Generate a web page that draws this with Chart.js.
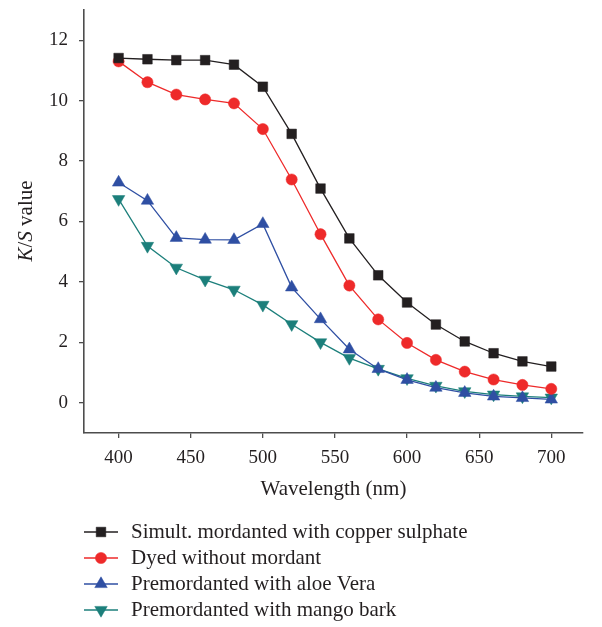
<!DOCTYPE html>
<html>
<head>
<meta charset="utf-8">
<script src="https://cdn.jsdelivr.net/npm/chart.js@4/dist/chart.umd.min.js"></script>
<style>
  html, body { margin: 0; padding: 0; background: #fff; }
  #wrap { width: 602px; height: 627px; position: relative; }
</style>
</head>
<body>
<div id="wrap"><canvas id="ksChart"></canvas></div>
<script>
// ===== data =====
const wavelengths = [400, 420, 440, 460, 480, 500, 520, 540, 560, 580, 600, 620, 640, 660, 680, 700];
const copperSulphate = [11.41, 11.37, 11.34, 11.34, 11.19, 10.46, 8.9, 7.09, 5.44, 4.22, 3.32, 2.59, 2.03, 1.64, 1.37, 1.2];
const withoutMordant = [11.3, 10.61, 10.2, 10.04, 9.91, 9.06, 7.39, 5.58, 3.88, 2.76, 1.98, 1.42, 1.03, 0.77, 0.59, 0.46];
const aloeVera = [7.29, 6.69, 5.46, 5.4, 5.39, 5.92, 3.82, 2.77, 1.77, 1.12, 0.76, 0.5, 0.33, 0.21, 0.16, 0.11];
const mangoBark = [6.74, 5.19, 4.47, 4.07, 3.74, 3.24, 2.6, 2.0, 1.48, 1.12, 0.81, 0.56, 0.38, 0.27, 0.21, 0.17];

const seriesNames = [
  "Simult. mordanted with copper sulphate",
  "Dyed without mordant",
  "Premordanted with aloe Vera",
  "Premordanted with mango bark"
];
const xTicks = [400, 450, 500, 550, 600, 650, 700];
const yTicks = [0, 2, 4, 6, 8, 10, 12];

const FONT = "'Liberation Serif', 'DejaVu Serif', serif";
const INK = "#231f20";
const AXIS = "#4d4d4d";
const TXT = 21; // titles / legend
const TICK = 19;

const toXY = vals => vals.map((v, i) => ({ x: wavelengths[i], y: v }));

function ds(label, vals, color, style, radius, rotation) {
  return {
    label,
    data: toXY(vals),
    borderColor: color,
    backgroundColor: color,
    pointBackgroundColor: color,
    pointBorderColor: color,
    pointBorderWidth: 0.5,
    pointStyle: style,
    pointRadius: radius,
    pointRotation: rotation || 0,
    pointHoverRadius: radius,
    borderWidth: 1.3,
    tension: 0,
    fill: false
  };
}

const datasets = [
  ds(seriesNames[0], copperSulphate, "#231f20", "rect", 6.8),
  ds(seriesNames[1], withoutMordant, "#ee2a2a", "circle", 5.6),
  ds(seriesNames[2], aloeVera, "#2f4fa3", "triangle", 7.2),
  ds(seriesNames[3], mangoBark, "#1c7f7b", "triangle", 7.2, 180)
];

// 凡例と y 軸タイトル（K, S を斜体）は自前で描く
const extras = {
  id: "extras",
  afterDraw(chart) {
    const c = chart.ctx;
    c.save();
    // y title
    const parts = [["K", "italic"], ["/", "normal"], ["S", "italic"], [" value", "normal"]];
    c.fillStyle = INK;
    c.textBaseline = "middle";
    let total = 0;
    parts.forEach(p => { c.font = `${p[1]} ${TXT}px ${FONT}`; total += c.measureText(p[0]).width; });
    c.translate(26, 221);
    c.rotate(-Math.PI / 2);
    let px = -total / 2;
    parts.forEach(p => {
      c.font = `${p[1]} ${TXT}px ${FONT}`;
      c.textAlign = "left";
      c.fillText(p[0], px, 0);
      px += c.measureText(p[0]).width;
    });
    c.restore();

    // legend
    c.save();
    chart.data.datasets.forEach((d, i) => {
      const y = 532 + i * 26;
      c.strokeStyle = d.borderColor;
      c.lineWidth = 1.3;
      c.beginPath();
      c.moveTo(84, y);
      c.lineTo(118, y);
      c.stroke();
      c.fillStyle = d.pointBackgroundColor;
      c.strokeStyle = d.pointBorderColor;
      c.lineWidth = 0.5;
      if (Chart.helpers && Chart.helpers.drawPoint) {
        Chart.helpers.drawPoint(c, {
          pointStyle: d.pointStyle,
          rotation: d.pointRotation,
          radius: d.pointRadius,
          borderWidth: 0.5
        }, 101, y);
      }
      c.fillStyle = INK;
      c.font = `${TXT}px ${FONT}`;
      c.textAlign = "left";
      c.textBaseline = "middle";
      c.fillText(d.label, 131, y);
    });
    c.restore();
  }
};

new Chart(document.getElementById("ksChart"), {
  type: "line",
  data: { datasets },
  options: {
    responsive: true,
    maintainAspectRatio: false,
    animation: false,
    layout: { padding: { left: 0, right: 19, top: 10, bottom: 125 } },
    plugins: {
      legend: { display: false },
      tooltip: { enabled: false }
    },
    scales: {
      x: {
        type: "linear",
        min: 376,
        max: 722,
        afterBuildTicks: s => { s.ticks = xTicks.map(v => ({ value: v })); },
        afterFit: s => { s.height = 69; s.paddingLeft = 0; s.paddingRight = 0; },
        grid: { drawOnChartArea: false, drawTicks: true, tickLength: 5, color: AXIS, lineWidth: 1.3 },
        border: { display: true, color: AXIS, width: 1.6 },
        ticks: { color: INK, padding: 9, font: { family: FONT, size: TICK }, maxRotation: 0 },
        title: {
          display: true,
          text: "Wavelength (nm)",
          color: INK,
          padding: { top: 0, bottom: 0 },
          font: { family: FONT, size: TXT }
        }
      },
      y: {
        min: -1,
        max: 13,
        afterBuildTicks: s => { s.ticks = yTicks.map(v => ({ value: v })); },
        afterFit: s => { s.width = 84; s.paddingTop = 0; s.paddingBottom = 0; },
        grid: { drawOnChartArea: false, drawTicks: true, tickLength: 5, color: AXIS, lineWidth: 1.3 },
        border: { display: true, color: AXIS, width: 1.6 },
        ticks: { color: INK, padding: 11, font: { family: FONT, size: TICK } }
      }
    }
  },
  plugins: [extras]
});
</script>
</body>
</html>
